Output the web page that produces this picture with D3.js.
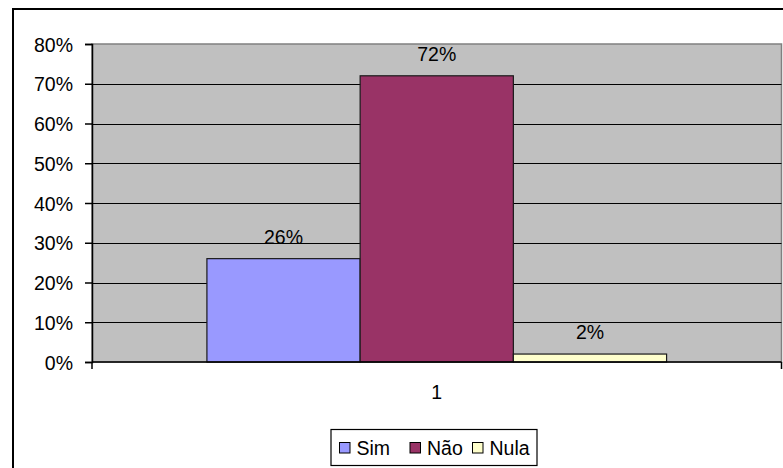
<!DOCTYPE html>
<html>
<head>
<meta charset="utf-8">
<script src="https://cdn.jsdelivr.net/npm/d3@7"></script>
<style>
  html, body { margin: 0; padding: 0; background: #fff; }
  svg { display: block; }
  text { font-family: "Liberation Sans", Arial, sans-serif; fill: #000; }
</style>
</head>
<body>
<svg id="chart" width="783" height="468"></svg>
<script>
// Vote results, single category
const categories = ["1"];
const seriesNames = ["Sim", "Não", "Nula"];
const seriesValues = [0.26, 0.72, 0.02];
const seriesColors = ["#9999FF", "#993366", "#FFFFCC"];
const yTicks = [0, 0.1, 0.2, 0.3, 0.4, 0.5, 0.6, 0.7, 0.8];

const FONT = 19.5;
const svg = d3.select("#chart");

// outer chart frame
svg.append("rect")
  .attr("x", 13).attr("y", 9)
  .attr("width", 790).attr("height", 480)
  .attr("fill", "#fff").attr("stroke", "#000").attr("stroke-width", 2);

const plot = { left: 92, top: 44, right: 781.5, bottom: 362 };

const y = d3.scaleLinear().domain([0, 0.8]).range([plot.bottom, plot.top]);
const x0 = d3.scaleBand().domain(categories).range([plot.left, plot.right]).paddingInner(0).paddingOuter(0.25);
const x1 = d3.scaleBand().domain(seriesNames).range([0, x0.bandwidth()]).padding(0);

// plot area background
svg.append("rect")
  .attr("x", plot.left).attr("y", plot.top)
  .attr("width", plot.right - plot.left).attr("height", plot.bottom - plot.top)
  .attr("fill", "#C0C0C0").attr("stroke", "#808080").attr("stroke-width", 1.5);

// gridlines
svg.append("g").selectAll("line")
  .data(yTicks.filter(d => d > 0 && d < 0.8))
  .join("line")
  .attr("x1", plot.left).attr("x2", plot.right)
  .attr("y1", d => Math.round(y(d)) + 0.5).attr("y2", d => Math.round(y(d)) + 0.5)
  .attr("stroke", "#000").attr("stroke-width", 1);

// bars
const bars = svg.append("g");
categories.forEach(cat => {
  bars.selectAll("rect.bar")
    .data(seriesValues.map((v, i) => ({ name: seriesNames[i], value: v, color: seriesColors[i] })))
    .join("rect")
    .attr("class", "bar")
    .attr("x", d => x0(cat) + x1(d.name))
    .attr("y", d => y(d.value))
    .attr("width", x1.bandwidth())
    .attr("height", d => plot.bottom - y(d.value))
    .attr("fill", d => d.color)
    .attr("stroke", "#1a1a1a").attr("stroke-width", 1.2);

  bars.selectAll("text.lbl")
    .data(seriesValues.map((v, i) => ({ name: seriesNames[i], value: v })))
    .join("text")
    .attr("class", "lbl")
    .attr("x", d => x0(cat) + x1(d.name) + x1.bandwidth() / 2)
    .attr("y", d => y(d.value) - 15)
    .attr("text-anchor", "middle")
    .attr("font-size", FONT)
    .text(d => d3.format(".0%")(d.value));
});

// y axis
const yAxis = d3.axisLeft(y).tickValues(yTicks).tickFormat(d3.format(".0%")).tickSize(7).tickPadding(12);
const yg = svg.append("g").attr("transform", `translate(${plot.left},0)`).call(yAxis);
yg.select(".domain").attr("stroke", "#000").attr("stroke-width", 1.5);
yg.selectAll(".tick line").attr("stroke", "#000").attr("stroke-width", 1.5);
yg.selectAll(".tick text").attr("font-size", FONT).attr("font-family", "Liberation Sans, Arial, sans-serif").attr("fill", "#000").attr("dy", "0.36em");

// x axis
const xg = svg.append("g").attr("transform", `translate(0,${plot.bottom})`);
xg.append("line").attr("x1", plot.left).attr("x2", plot.right).attr("y1", 0).attr("y2", 0)
  .attr("stroke", "#000").attr("stroke-width", 1.5);
xg.selectAll("line.edge").data([plot.left, plot.right]).join("line").attr("class", "edge")
  .attr("x1", d => d).attr("x2", d => d).attr("y1", 0).attr("y2", 7)
  .attr("stroke", "#000").attr("stroke-width", 1.5);
xg.selectAll("text").data(categories).join("text")
  .attr("x", d => x0(d) + x0.bandwidth() / 2)
  .attr("y", 37)
  .attr("text-anchor", "middle")
  .attr("font-size", FONT)
  .text(d => d);

// legend
const lg = svg.append("g");
lg.append("rect").attr("x", 331).attr("y", 429.5).attr("width", 206).attr("height", 36)
  .attr("fill", "#fff").attr("stroke", "#000").attr("stroke-width", 1.2);
const legendX = [339.5, 410, 472.5];
seriesNames.forEach((n, i) => {
  lg.append("rect").attr("x", legendX[i]).attr("y", 442.5).attr("width", 10.5).attr("height", 10.5)
    .attr("fill", seriesColors[i]).attr("stroke", "#000").attr("stroke-width", 1);
  lg.append("text").attr("x", legendX[i] + 17).attr("y", 455).attr("font-size", FONT).text(n);
});
</script>
</body>
</html>
